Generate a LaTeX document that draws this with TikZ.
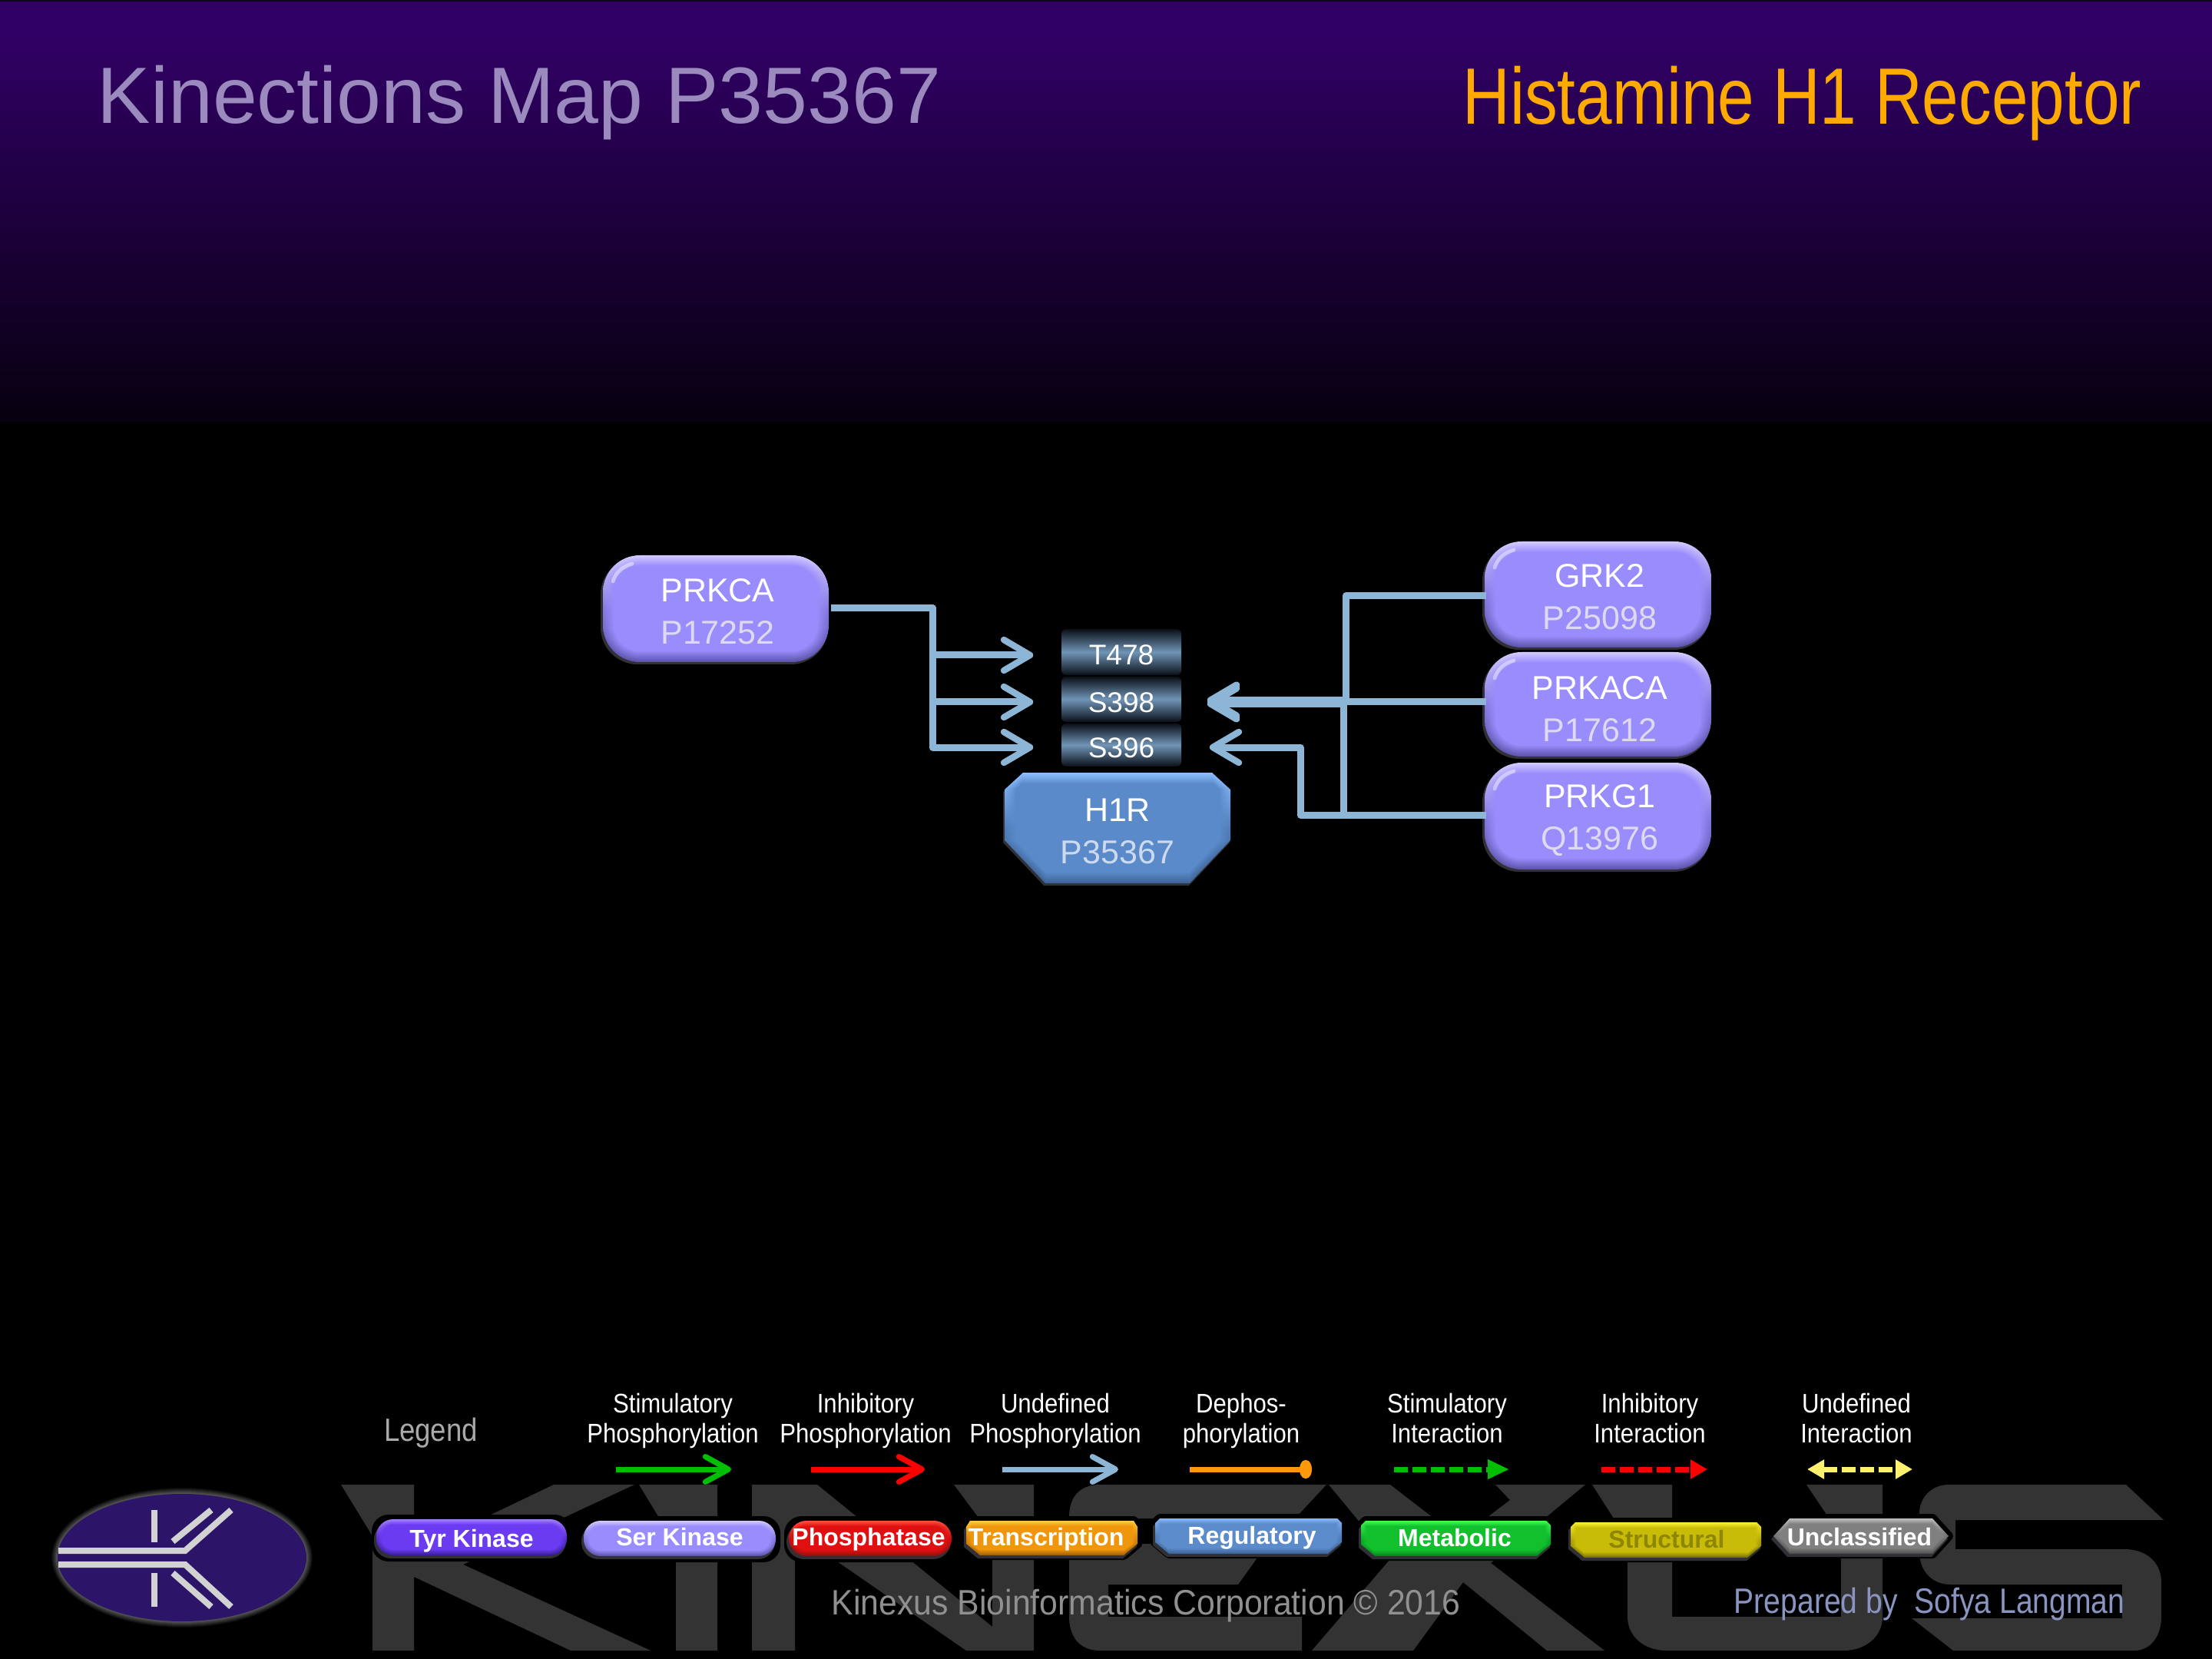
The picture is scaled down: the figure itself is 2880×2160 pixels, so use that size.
\documentclass[tikz,border=0pt]{standalone}
\usepackage{fontspec}
\setmainfont{Liberation Sans}
\newfontfamily\legf[FakeStretch=0.89]{Liberation Sans}
\newfontfamily\ltitf[FakeStretch=0.87]{Liberation Sans}
\newfontfamily\copyf[FakeStretch=0.93]{Liberation Sans}
\newfontfamily\prepf[FakeStretch=0.85]{Liberation Sans}
\newfontfamily\histf[FakeStretch=0.822]{Liberation Sans}
\usetikzlibrary{arrows.meta,calc}
\definecolor{conn}{RGB}{141,182,214}
\definecolor{kbase}{RGB}{153,140,252}
\definecolor{khi}{RGB}{212,204,255}
\definecolor{klo}{RGB}{92,84,170}
\definecolor{kid}{RGB}{222,218,238}
\definecolor{hid}{RGB}{205,218,238}
\definecolor{wm}{RGB}{51,51,51}
\definecolor{logoc}{RGB}{44,21,104}
\definecolor{logol}{RGB}{210,210,210}
\definecolor{shadowc}{RGB}{48,48,54}
\definecolor{site1}{RGB}{10,15,24}
\definecolor{site2}{RGB}{112,148,182}
\definecolor{hdr}{RGB}{48,0,100}
\definecolor{hdrline}{RGB}{14,8,30}
\definecolor{maptc}{RGB}{154,138,190}
\definecolor{prottc}{RGB}{255,170,0}
\definecolor{hhi}{RGB}{143,192,255}
\definecolor{hbase}{RGB}{90,138,202}
\definecolor{hlo}{RGB}{62,100,150}
\definecolor{leggray}{RGB}{170,170,170}
\definecolor{lgreen}{RGB}{0,190,0}
\definecolor{lred}{RGB}{255,0,0}
\definecolor{lorange}{RGB}{255,152,10}
\definecolor{lyellow}{RGB}{255,240,112}
\definecolor{tyh}{RGB}{165,130,255}\definecolor{tyb}{RGB}{106,59,240}\definecolor{tyl}{RGB}{58,28,154}
\definecolor{phh}{RGB}{255,80,64}\definecolor{phb}{RGB}{224,16,16}\definecolor{phl}{RGB}{144,16,16}
\definecolor{trh}{RGB}{255,204,64}\definecolor{trb}{RGB}{240,150,12}\definecolor{trl}{RGB}{160,96,8}
\definecolor{reh}{RGB}{138,184,248}\definecolor{reb}{RGB}{91,139,203}\definecolor{rel}{RGB}{61,100,151}
\definecolor{meh}{RGB}{64,255,80}\definecolor{meb}{RGB}{18,192,46}\definecolor{mel}{RGB}{10,128,32}
\definecolor{sth}{RGB}{255,240,48}\definecolor{stb}{RGB}{200,188,8}\definecolor{stl}{RGB}{120,112,0}
\definecolor{unh}{RGB}{192,192,192}\definecolor{unb}{RGB}{128,128,128}\definecolor{unl}{RGB}{80,80,80}
\definecolor{strtxt}{RGB}{140,134,0}
\definecolor{copyc}{RGB}{144,144,144}
\definecolor{prepc}{RGB}{138,148,192}
\tikzset{
  x=0.25pt,y=-0.25pt,
  connector/.style={conn,line width=2.25pt,line join=round},
  barbed/.style={connector,-{Straight Barb[length=8.5pt,width=10pt,line width=2.1pt,round]}},
  kin/.style={text=white,align=center,font=\fontsize{10.75}{13.75}\selectfont,minimum width=73.5pt,minimum height=34pt,inner sep=0pt},
  sitebox/.style={shade,top color=site1,bottom color=site1,middle color=site2,rounded corners=1.5pt,text=white,minimum width=39pt,inner sep=0pt,font=\fontsize{9.25}{11}\selectfont,text height=8.4pt,text depth=0pt},
  legtxt/.style={text=white,align=center,font=\legf\fontsize{8.75}{9.75}\selectfont,inner sep=0pt},
  boxtxt/.style={text=white,font=\bfseries\fontsize{8}{9}\selectfont,inner sep=0pt},
  legline/.style={line width=1.75pt},
  legsolid/.style={legline,-{Straight Barb[length=7.5pt,width=8.2pt,line width=1.8pt,round]}},
  legdash/.style={legline,dash pattern=on 4.5pt off 1.5pt},
  wmark/.style={fill=wm},
  logobar/.style={logol,line width=2pt,line join=miter},
  glossy/.style={white,opacity=0.45,line width=1.2pt,line cap=round},
}
% rounded bevel: x1 y1 x2 y2 radius depth hi base lo
\newcommand{\rbev}[9]{%
  \foreach \i in {0,...,#6}{%
    \pgfmathsetmacro{\m}{100*\i/#6}%
    \pgfmathsetmacro{\rr}{max(#5-\i,1)*0.25}%
    \shade[top color=#8!\m!#7,bottom color=#8!\m!#9,middle color=#8!\m!#9!35!#8,rounded corners=\rr pt]
      ({#1+\i},{#2+\i}) rectangle ({#3-\i},{#4-\i});
  }}
\newcommand{\gloss}[2]{\draw[glossy] ({#1+13},{#2+34}) .. controls ({#1+17},{#2+22}) and ({#1+25},{#2+15}) .. ({#1+38},{#2+11});}
\newcommand{\rshadow}[6]{%
  \fill[black,rounded corners=#5*0.25pt] ({#1-6},{#2-6}) rectangle ({#3+6},{#4+8});
  \fill[#6,rounded corners=#5*0.25pt] ({#1-3},{#2+4}) rectangle ({#3-1},{#4+4});}
\newcommand{\setch}[4]{\def\ctx{#1}\def\cty{#2}\def\cbx{#3}\def\cby{#4}}
% chamfered polygon: options x1 y1 x2 y2 inset
\newcommand{\chdraw}[6]{%
  \pgfmathsetmacro{\dty}{max(\cty-#6,0.01)}\pgfmathsetmacro{\dtx}{\ctx*\dty/\cty}%
  \pgfmathsetmacro{\dby}{max(\cby-#6,0.01)}\pgfmathsetmacro{\dbx}{\cbx*\dby/\cby}%
  \path[#1] ({#2+#6+\dtx},{#3+#6}) -- ({#4-#6-\dtx},{#3+#6}) -- ({#4-#6},{#3+#6+\dty}) -- ({#4-#6},{#5-#6-\dby}) -- ({#4-#6-\dbx},{#5-#6}) -- ({#2+#6+\dbx},{#5-#6}) -- ({#2+#6},{#5-#6-\dby}) -- ({#2+#6},{#3+#6+\dty}) -- cycle;}
% chamfer bevel: x1 y1 x2 y2 depth hi base lo
\newcommand{\cbev}[8]{%
  \foreach \i in {0,...,#5}{%
    \pgfmathsetmacro{\m}{100*\i/#5}%
    \chdraw{shade,top color=#7!\m!#6,bottom color=#7!\m!#8,middle color=#7!\m!#8!35!#7}{#1}{#2}{#3}{#4}{\i}%
  }}
\newcommand{\cshadow}[5]{%
  \chdraw{fill=black,draw=black,line width=3pt,line join=round}{#1}{#2}{#3}{#4}{0}%
  \chdraw{fill=#5}{#1-3}{#2+4}{#3-1}{#4+4}{0}}
\begin{document}
\begin{tikzpicture}
\useasboundingbox (0,0) rectangle (2880,2160);
\fill[black] (0,0) rectangle (2880,2160);
\fill[hdr] (0,0) rectangle (2880,50);
\shade[top color=hdr,middle color=hdr!58!black,bottom color=hdr!14!black] (0,50) rectangle (2880,550);
\fill[hdrline] (0,0) rectangle (2880,2);
% titles
\node[anchor=base west,inner sep=0pt,text=maptc,font=\fontsize{26}{30}\selectfont] (maptitle) at (126,161) {Kinections Map P35367};
\node[anchor=base east,inner sep=0pt,text=prottc,font=\histf\fontsize{26}{30}\selectfont] (prottitle) at (2789,162) {Histamine H1 Receptor};
% watermark
\fill[wmark] (444,1933) -- (539,1933) -- (539,2020) -- (721,1933) -- (826,1933) -- (603,2037) -- (847,2149) -- (743,2149) -- (539,2053) -- (539,2149) -- (485,2149) -- (485,2000) -- cycle;
\fill[wmark] (832,1933) -- (934,1933) -- (934,2149) -- (880,2149) -- (880,2012) -- cycle;
\fill[wmark] (979,1933) -- (1064,1933) -- (1292,2118) -- (1292,2000) -- (1242,1933) -- (1346,1933) -- (1346,2149) -- (1258,2149) -- (1035,1995) -- (1035,2149) -- (979,2149) -- cycle;
\fill[wmark] (1392,1975) .. controls (1392,1950) and (1405,1933) .. (1432,1933) -- (1727,1933) -- (1686,1977) -- (1443,1977) -- (1443,2010) -- (1650,2010) -- (1612,2063) -- (1443,2063) -- (1443,2105) -- (1695,2105) -- (1695,2149) -- (1432,2149) .. controls (1405,2149) and (1392,2130) .. (1392,2105) -- cycle;
\fill[wmark] (1730,1933) -- (1810,1933) -- (1867,1977) -- (1905,2015) -- (1937,1975) -- (1966,1953) -- (1947,1933) -- (2064,1933) -- (1941,2035) -- (2089,2149) -- (2014,2149) -- (1905,2060) -- (1840,2149) -- (1708,2149) -- (1810,2030) -- cycle;
\fill[wmark] (2073,1933) -- (2177,1933) -- (2177,2105) -- (2397,2105) -- (2397,2000) -- (2352,1933) -- (2451,1933) -- (2451,2105) .. controls (2451,2130) and (2430,2149) .. (2400,2149) -- (2170,2149) .. controls (2140,2149) and (2119,2130) .. (2119,2105) -- (2119,2005) -- cycle;
\fill[wmark] (2537,1933) -- (2768,1933) -- (2817,1979) -- (2546,1979) -- (2546,2017) -- (2766,2017) .. controls (2795,2017) and (2814,2035) .. (2814,2060) -- (2814,2105) .. controls (2814,2130) and (2800,2149) .. (2779,2149) -- (2543,2149) -- (2489,2107) -- (2763,2107) -- (2763,2063) -- (2540,2063) .. controls (2515,2063) and (2499,2045) .. (2499,2020) -- (2499,1970) .. controls (2499,1950) and (2515,1933) .. (2537,1933) -- cycle;
% logo
\foreach \k in {9,8,...,1}{\pgfmathsetmacro{\g}{(9-\k)*8}\fill[gray!\g!black] (237,2028) ellipse ({162+\k} and {83+\k});}
\fill[logoc] (237,2028) ellipse (162 and 83);
\draw[logobar] (76,2019) -- (241,2019) -- (301,1966);
\draw[logobar] (76,2037) -- (241,2037) -- (301,2092);
\draw[logobar] (225,2007) -- (275,1966);
\draw[logobar] (225,2048) -- (275,2092);
\draw[logobar] (201,1966) -- (201,2008);
\draw[logobar] (201,2048) -- (201,2092);
% proteins
\fill[shadowc,rounded corners=12pt] (782,726) rectangle (1078,865);
\rbev{785}{723}{1079}{862}{48}{14}{khi}{kbase}{klo}\gloss{785}{723}
\fill[shadowc,rounded corners=12pt] (1930,708) rectangle (2227,846);
\rbev{1933}{705}{2228}{843}{48}{14}{khi}{kbase}{klo}\gloss{1933}{705}
\fill[shadowc,rounded corners=12pt] (1930,852) rectangle (2227,988);
\rbev{1933}{849}{2228}{985}{48}{14}{khi}{kbase}{klo}\gloss{1933}{849}
\fill[shadowc,rounded corners=12pt] (1930,996) rectangle (2227,1135);
\rbev{1933}{993}{2228}{1132}{48}{14}{khi}{kbase}{klo}\gloss{1933}{993}
\node[kin] (PRKCA) at (934.5,796) {PRKCA\\\textcolor{kid}{P17252}};
\node[kin] (GRK2) at (2083,777) {GRK2\\\textcolor{kid}{P25098}};
\node[kin] (PRKACA) at (2083,923) {PRKACA\\\textcolor{kid}{P17612}};
\node[kin] (PRKG1) at (2083,1068.5) {PRKG1\\\textcolor{kid}{Q13976}};
% target
\setch{24}{22}{53}{56}
\chdraw{fill=shadowc}{1306}{1009}{1601}{1153}{0}
\cbev{1308}{1006}{1602}{1150}{14}{hhi}{hbase}{hlo}
\node[kin,minimum width=73pt,minimum height=36pt,text=white] (H1R) at (1455,1082) {H1R\\\textcolor{hid}{P35367}};
\node[sitebox,minimum height=15pt] (T478) at (1460,849) {T478};
\node[sitebox,minimum height=14.75pt] (S398) at (1460,910.5) {S398};
\node[sitebox,minimum height=14pt] (S396) at (1460,970) {S396};
% connectors
\coordinate (tipTl) at ([shift={(-36,4)}]T478.west);
\coordinate (tipSal) at ([shift={(-36,3.5)}]S398.west);
\coordinate (tipSbl) at ([shift={(-36,3)}]S396.west);
\coordinate (busL) at (1214,792);
\coordinate (tipSar) at ([shift={(33,3.5)}]S398.east);
\coordinate (tipSbr) at ([shift={(36,3)}]S396.east);
\coordinate (busGRK) at (1752,776);
\coordinate (busPKG) at (1749,1061);
\coordinate (busPKGb) at (1693,1061);
\draw[barbed] (PRKCA.east |- busL) -| (busL |- tipTl) -- (tipTl);
\draw[barbed] (PRKCA.east |- busL) -| (busL |- tipSal) -- (tipSal);
\draw[barbed] (PRKCA.east |- busL) -| (busL |- tipSbl) -- (tipSbl);
\draw[barbed] (GRK2.west |- busGRK) -- (busGRK) |- ([yshift=0.6pt]tipSar);
\draw[barbed] (PRKACA.west |- tipSar) -- (tipSar);
\draw[barbed] (PRKG1.west |- busPKG) -- (busPKG) |- ([yshift=-0.6pt]tipSar);
\draw[barbed] (PRKG1.west |- busPKG) -- (busPKGb) |- (tipSbr);
% legend headings
\node[anchor=base,inner sep=0pt,text=leggray,font=\ltitf\fontsize{10.5}{12}\selectfont] (legendhead) at (561,1876) {Legend};
\newcommand{\lstrut}{\rule[-2pt]{0pt}{2pt}}
\node[legtxt] (l1) at (876,1850) {Stimulatory\\Phosphorylation\lstrut};
\node[legtxt] (l2) at (1127,1850) {Inhibitory\\Phosphorylation\lstrut};
\node[legtxt] (l3) at (1374,1850) {Undefined\\Phosphorylation\lstrut};
\node[legtxt] (l4) at (1616,1850) {Dephos-\\phorylation\lstrut};
\node[legtxt] (l5) at (1884,1850) {Stimulatory\\Interaction\lstrut};
\node[legtxt] (l6) at (2148,1850) {Inhibitory\\Interaction\lstrut};
\node[legtxt] (l7) at (2417,1850) {Undefined\\Interaction\lstrut};
% legend arrows
\coordinate (a1s) at (802,1913); \coordinate (a1e) at (952,1913);
\coordinate (a2s) at (1056,1913); \coordinate (a2e) at (1204,1913);
\coordinate (a3s) at (1305,1913); \coordinate (a3e) at (1456,1913);
\coordinate (a4s) at (1549,1913); \coordinate (a4e) at (1708,1913);
\coordinate (a5s) at (1815,1913); \coordinate (a5e) at (1965,1913);
\coordinate (a6s) at (2085,1913); \coordinate (a6e) at (2223,1913);
\coordinate (a7s) at (2353,1913); \coordinate (a7e) at (2490,1913);
\draw[legsolid,color=lgreen] (a1s) -- (a1e);
\draw[legsolid,color=lred] (a2s) -- (a2e);
\draw[legsolid,conn] (a3s) -- (a3e);
\draw[legline,color=lorange,-{Ellipse[length=4pt,width=6pt]}] (a4s) -- (a4e);
\draw[legdash,color=lgreen,-{Triangle[length=7pt,width=6pt,sep=0pt]}] (a5s) -- (a5e);
\draw[legdash,color=lred,-{Triangle[length=5.5pt,width=6pt]}] (a6s) -- (a6e);
\draw[legdash,color=lyellow,{Triangle[length=5.5pt,width=6pt]}-{Triangle[length=5.5pt,width=6pt]}] (a7s) -- (a7e);
% legend boxes
\rshadow{490}{1978}{738}{2025}{22}{shadowc}
\rbev{490}{1978}{738}{2025}{22}{7}{tyh}{tyb}{tyl}
\rshadow{760}{1980}{1010}{2026}{22}{shadowc}
\rbev{760}{1980}{1010}{2026}{22}{7}{khi}{kbase}{klo}
\rshadow{1027}{1980}{1239}{2026}{23}{shadowc}
\rbev{1027}{1980}{1239}{2026}{23}{7}{phh}{phb}{phl}
\setch{5}{8}{18}{15}
\cshadow{1258}{1980}{1481}{2025}{shadowc}
\cbev{1258}{1980}{1481}{2025}{7}{trh}{trb}{trl}
\setch{6}{6}{18}{15}
\cshadow{1504}{1977}{1747}{2023}{shadowc}
\cbev{1504}{1977}{1747}{2023}{7}{reh}{reb}{rel}
\cshadow{1772}{1980}{2019}{2026}{shadowc}
\cbev{1772}{1980}{2019}{2026}{7}{meh}{meb}{mel}
\cshadow{2045}{1982}{2293}{2028}{shadowc}
\cbev{2045}{1982}{2293}{2028}{7}{sth}{stb}{stl}
\setch{21}{23}{21}{23}
\cshadow{2309}{1977}{2537}{2023}{shadowc}
\cbev{2309}{1977}{2537}{2023}{7}{unh}{unb}{unl}
\node[boxtxt] (tyr) at (614,2006) {Tyr Kinase};
\node[boxtxt] (ser) at (885,2001) {Ser Kinase};
\node[boxtxt] (pho) at (1131,2004) {Phosphatase};
\node[boxtxt] (tra) at (1362,2004) {Transcription};
\node[boxtxt] (reg) at (1630,2002) {Regulatory};
\node[boxtxt] (met) at (1894,2002) {Metabolic};
\node[boxtxt,text=strtxt] (str) at (2170,2004) {Structural};
\node[boxtxt] (unc) at (2421,2001) {Unclassified};
% footer
\node[anchor=base west,inner sep=0pt,text=copyc,font=\copyf\fontsize{11.5}{13}\selectfont] (copy) at (1082,2102) {Kinexus Bioinformatics Corporation © 2016};
\node[anchor=base west,inner sep=0pt,text=prepc,font=\prepf\fontsize{11.5}{13}\selectfont] (prep) at (2257,2100) {Prepared by\ \ Sofya Langman};
\end{tikzpicture}
\end{document}
